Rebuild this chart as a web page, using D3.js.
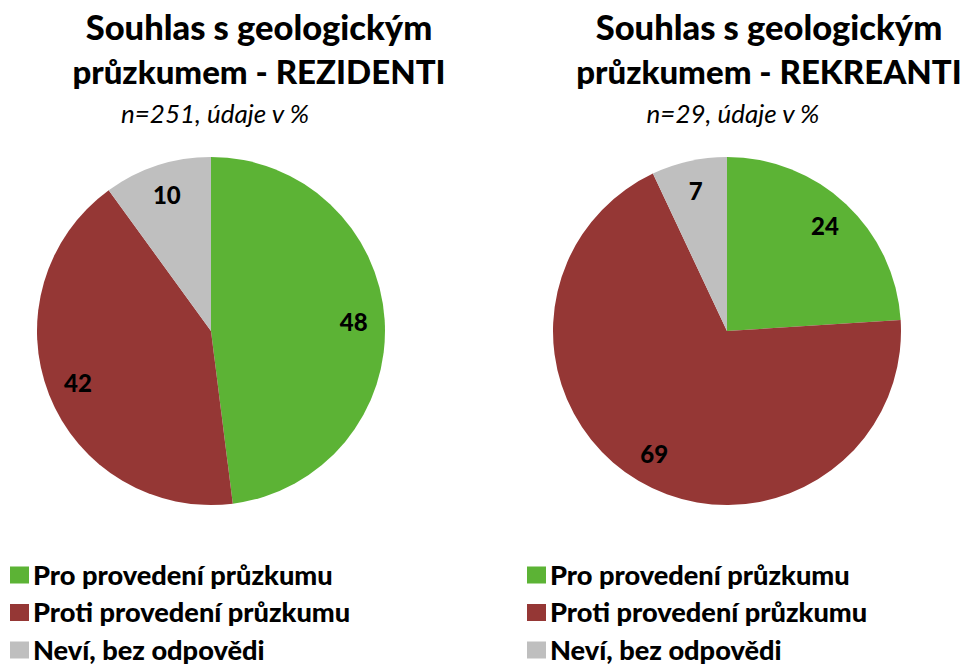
<!DOCTYPE html>
<html>
<head>
<meta charset="utf-8">
<script src="https://cdn.jsdelivr.net/npm/d3@7"></script>
<style>
  html, body { margin: 0; padding: 0; background: #fff; }
  svg { display: block; font-family: Lato, "Open Sans", sans-serif; }
</style>
</head>
<body>
<svg id="chart" width="971" height="666"></svg>
<script>
// Answer categories shared by both pies
const categories = ["Pro provedení průzkumu", "Proti provedení průzkumu", "Neví, bez odpovědi"];
const colors = ["#5cb335", "#953735", "#bfbfbf"];

// Percent shares per respondent group
const residentValues = [48, 42, 10];
const recreantValues = [24, 69, 7];

const titlesResident = ["Souhlas s geologickým", "průzkumem - REZIDENTI"];
const titlesRecreant = ["Souhlas s geologickým", "průzkumem - REKREANTI"];
const noteResident = "n=251, údaje v %";
const noteRecreant = "n=29, údaje v %";

const svg = d3.select("#chart");

const color = d3.scaleOrdinal().domain(categories).range(colors);
const pie = d3.pie().sort(null).value(d => d.value);
const radius = 174;
const arc = d3.arc().innerRadius(0).outerRadius(radius);
// data labels sit at ~82% of the radius
const labelArc = d3.arc().innerRadius(143).outerRadius(143);

function drawPanel(cfg) {
  const g = svg.append("g");
  const data = categories.map((c, i) => ({ cat: c, value: cfg.values[i] }));

  // Title, two lines
  g.append("text")
    .attr("x", cfg.titleX).attr("y", 40)
    .attr("text-anchor", "middle")
    .style("font-weight", "900").attr("fill", "#000")
    .selectAll("tspan").data(cfg.title).join("tspan")
    .attr("x", cfg.titleX).attr("dy", (d, i) => i === 0 ? 0 : 44)
    .style("font-size", (d, i) => i === 0 ? "34.5px" : "33px")
    .text(d => d);

  g.append("text")
    .attr("x", cfg.noteX).attr("y", 123)
    .attr("text-anchor", "middle")
    .style("font-style", "italic").style("font-size", "26px").attr("fill", "#000")
    .text(cfg.note);

  const pg = g.append("g").attr("transform", `translate(${cfg.cx},331)`);
  const arcs = pie(data);
  pg.selectAll("path").data(arcs).join("path")
    .attr("d", arc)
    .attr("fill", d => color(d.data.cat));

  pg.selectAll("text").data(arcs).join("text")
    .attr("transform", d => `translate(${labelArc.centroid(d)})`)
    .attr("text-anchor", "middle")
    .attr("dy", "0.36em")
    .style("font-weight", "900").style("font-size", "24px")
    .text(d => d.data.value);

  // Legend
  const lg = g.append("g").attr("transform", `translate(${cfg.legendX},575)`);
  const rows = lg.selectAll("g").data(categories).join("g")
    .attr("transform", (d, i) => `translate(0,${i * 37.5})`);
  rows.append("rect")
    .attr("x", 0).attr("y", -8.5).attr("width", 19).attr("height", 17)
    .attr("fill", d => color(d));
  rows.append("text")
    .attr("x", 23).attr("y", 0).attr("dy", "0.36em")
    .style("font-weight", "900").style("font-size", "27.2px")
    .text(d => d);
}

drawPanel({ values: residentValues, title: titlesResident, note: noteResident,
  titleX: 259, noteX: 215, cx: 211, legendX: 10 });
drawPanel({ values: recreantValues, title: titlesRecreant, note: noteRecreant,
  titleX: 769, noteX: 733, cx: 727, legendX: 527 });
</script>
</body>
</html>
